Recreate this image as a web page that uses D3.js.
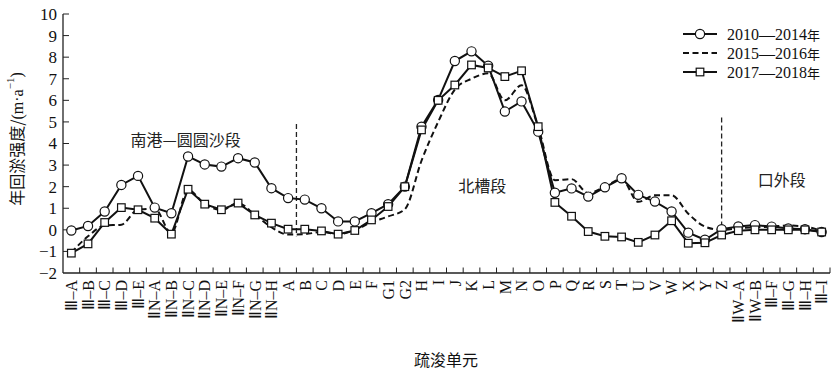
<!DOCTYPE html>
<html><head><meta charset="utf-8">
<script src="https://cdn.jsdelivr.net/npm/d3@7"></script>
<style>body{margin:0;background:#fff}svg{display:block}</style>
</head><body>
<svg id="chart" width="831" height="373"></svg>
<script>
const categories = ["Ⅲ–A","Ⅲ–B","Ⅲ–C","Ⅲ–D","Ⅲ–E","ⅡN–A","ⅡN–B","ⅡN–C","ⅡN–D","ⅡN–E","ⅡN–F","ⅡN–G","ⅡN–H","A","B","C","D","E","F","G1","G2","H","I","J","K","L","M","N","O","P","Q","R","S","T","U","V","W","X","Y","Z","ⅡW–A","ⅡW–B","Ⅲ–F","Ⅲ–G","Ⅲ–H","Ⅲ–I"];
const values2010 = [-0.03,0.18,0.85,2.08,2.5,1.03,0.77,3.4,3.03,2.93,3.32,3.12,1.93,1.47,1.4,1.0,0.39,0.39,0.77,1.19,2.0,4.78,6.02,7.82,8.27,7.6,5.48,5.95,4.55,1.72,1.92,1.54,1.97,2.39,1.62,1.31,0.85,-0.13,-0.46,0.03,0.16,0.22,0.15,0.06,0.03,-0.1];
const values2015 = [-1.05,-0.3,0.2,0.24,0.94,0.98,-0.15,1.85,1.2,0.92,1.24,0.7,0.12,-0.22,-0.2,-0.1,-0.2,0.0,0.35,0.62,0.95,3.2,5.0,6.5,7.0,7.25,6.0,6.7,4.75,2.3,2.35,1.7,2.0,2.35,1.3,1.6,1.6,0.75,0.15,0.0,0.07,0.12,0.15,0.2,0.15,-0.05];
const values2017 = [-1.08,-0.65,0.34,1.03,0.93,0.54,-0.2,1.88,1.19,0.93,1.24,0.69,0.31,0.03,0.03,-0.05,-0.2,-0.03,0.46,1.08,2.0,4.63,6.0,6.71,7.64,7.5,7.1,7.37,4.78,1.27,0.63,-0.08,-0.3,-0.33,-0.58,-0.24,0.42,-0.62,-0.6,-0.24,-0.04,0.0,0.0,0.0,0.0,-0.1];
const yTicks = [-2,-1,0,1,2,3,4,5,6,7,8,9,10];
const seriesNames = ["2010—2014年","2015—2016年","2017—2018年"];
const sectionLabels = ["南港—圆圆沙段","北槽段","口外段"];
const xTitle = "疏浚单元";

const latin = "'Liberation Serif','Times New Roman',serif";
const cjk = "'Noto Sans CJK SC','Liberation Serif',sans-serif";
const svg = d3.select("#chart");
const x = d3.scaleBand().domain(categories).range([63, 830]).padding(0);
const step = x.bandwidth();
const cx = c => x(c) + step/2;
const y = d3.scaleLinear().domain([-2,10]).range([273,14]);

// axes
const gx = svg.append("g").attr("transform","translate(0,273)");
gx.append("line").attr("x1",63).attr("x2",830).attr("stroke","#222").attr("stroke-width",1.3);
gx.selectAll("line.t").data(categories).enter().append("line")
  .attr("class","t")
  .attr("x1",d=>x(d)+step).attr("x2",d=>x(d)+step)
  .attr("y1",0).attr("y2",-5.5).attr("stroke","#222").attr("stroke-width",1);
gx.selectAll("text").data(categories).enter().append("text")
  .attr("transform",d=>`translate(${cx(d)},7) rotate(-90)`)
  .attr("text-anchor","end").attr("dy","0.36em")
  .style("font-family",latin).style("font-size","16px").attr("fill","#111")
  .text(d=>d);

const gy = svg.append("g");
gy.append("line").attr("x1",63).attr("x2",63).attr("y1",y(-2)).attr("y2",y(10)).attr("stroke","#222").attr("stroke-width",1.3);
gy.selectAll("line.t").data(yTicks.filter(d=>d>-2)).enter().append("line")
  .attr("x1",63).attr("x2",69).attr("y1",d=>y(d)).attr("y2",d=>y(d)).attr("stroke","#222").attr("stroke-width",1);
gy.selectAll("text").data(yTicks).enter().append("text")
  .attr("x",57).attr("y",d=>y(d)).attr("dy","0.35em").attr("text-anchor","end")
  .style("font-family",latin).style("font-size","17px").attr("fill","#111")
  .text(d=> d<0 ? "−"+Math.abs(d) : String(d));

// axis titles
const yt = svg.append("text").attr("transform","translate(17,139) rotate(-90)")
  .attr("text-anchor","middle").attr("dy","0.35em")
  .style("font-family",cjk).style("font-size","16px").attr("fill","#111");
yt.append("tspan").text("年回淤强度/");
yt.append("tspan").style("font-family",latin).text("(m·a");
yt.append("tspan").style("font-family",latin).style("font-size","11px").attr("dy","-0.75em").text("−1");
yt.append("tspan").style("font-family",latin).attr("dy","0.45em").text(")");

svg.append("text").attr("x",446).attr("y",360).attr("dy","0.35em").attr("text-anchor","middle")
  .style("font-family",cjk).style("font-size","16px").attr("fill","#111").text(xTitle);

// dividers
const dividers = [{x: cx("A")+step/2, y0:4.9, y1:-0.3},{x: cx("Z"), y0:5.2, y1:0.0}];
svg.selectAll("line.div").data(dividers).enter().append("line")
  .attr("x1",d=>d.x).attr("x2",d=>d.x).attr("y1",d=>y(d.y0)).attr("y2",d=>y(d.y1))
  .attr("stroke","#222").attr("stroke-width",1.3).attr("stroke-dasharray","5,3");

// section labels
const sections = [
  {t:sectionLabels[0], x: cx("ⅡN–B")+step*0.85, v:4.15},
  {t:sectionLabels[1], x: cx("K")+step*0.65, v:2.0},
  {t:sectionLabels[2], x: cx("Ⅲ–F")+step*0.6, v:2.3}
];
svg.selectAll("text.sec").data(sections).enter().append("text")
  .attr("x",d=>d.x).attr("y",d=>y(d.v)).attr("dy","0.35em").attr("text-anchor","middle")
  .style("font-family",cjk).style("font-size","16px").attr("fill","#222").text(d=>d.t);

// lines
const lineLin = d3.line().x((d,i)=>cx(categories[i])).y(d=>y(d));
const lineSmooth = d3.line().x((d,i)=>cx(categories[i])).y(d=>y(d)).curve(d3.curveMonotoneX);
svg.append("path").attr("d",lineSmooth(values2015)).attr("fill","none").attr("stroke","#111")
  .attr("stroke-width",2).attr("stroke-dasharray","6,3.5");
svg.append("path").attr("d",lineLin(values2010)).attr("fill","none").attr("stroke","#111").attr("stroke-width",2);
svg.append("path").attr("d",lineLin(values2017)).attr("fill","none").attr("stroke","#111").attr("stroke-width",2);

svg.selectAll("circle.m").data(values2010).enter().append("circle")
  .attr("cx",(d,i)=>cx(categories[i])).attr("cy",d=>y(d)).attr("r",4.6)
  .attr("fill","#fff").attr("stroke","#111").attr("stroke-width",1.2);
svg.selectAll("rect.m").data(values2017).enter().append("rect")
  .attr("x",(d,i)=>cx(categories[i])-3.8).attr("y",d=>y(d)-3.8).attr("width",7.6).attr("height",7.6)
  .attr("fill","#fff").attr("stroke","#111").attr("stroke-width",1.2);

// legend
const lg = svg.append("g");
const rows = [34,53,72];
seriesNames.forEach((name,i)=>{
  const ly = rows[i];
  const ln = lg.append("line").attr("x1",683).attr("x2",717).attr("y1",ly).attr("y2",ly)
    .attr("stroke","#111").attr("stroke-width",2);
  if(i===1) ln.attr("stroke-dasharray","6,3.5");
  if(i===0) lg.append("circle").attr("cx",700).attr("cy",ly).attr("r",4.6).attr("fill","#fff").attr("stroke","#111").attr("stroke-width",1.2);
  if(i===2) lg.append("rect").attr("x",696.2).attr("y",ly-3.8).attr("width",7.6).attr("height",7.6).attr("fill","#fff").attr("stroke","#111").attr("stroke-width",1.2);
  const t = lg.append("text").attr("x",727).attr("y",ly).attr("dy","0.36em")
    .style("font-family",latin).style("font-size","16px").attr("fill","#111");
  t.append("tspan").text(name.slice(0,-1));
  t.append("tspan").style("font-family",cjk).style("font-size","13px").text(name.slice(-1));
});
</script>
</body></html>
